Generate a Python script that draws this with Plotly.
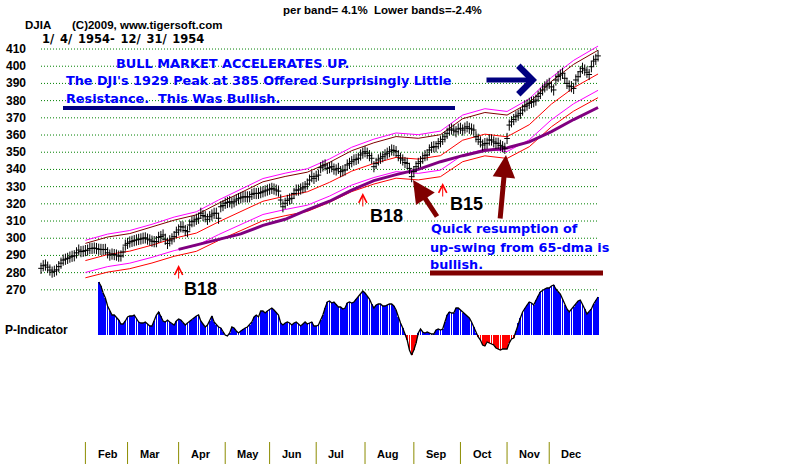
import plotly.graph_objects as go

W, H = 800, 467

# ---------------- data ----------------
# DJIA daily closes, 1954 (trading-day index 0 = Jan 4)
CLOSE = [
    282.5, 284.0, 284.4, 283.2, 281.5, 280.3, 280.8, 281.6, 283.5, 285.5,
    287.3, 287.8, 288.3, 289.0, 289.5, 289.8, 291.5, 293.1, 292.2, 292.4,
    292.8, 293.1, 294.0, 294.1, 294.3, 294.0, 293.6, 293.5, 293.4, 293.5,
    291.5, 290.2, 290.8, 290.5, 290.2, 289.6, 289.7, 292.0, 296.0, 297.0,
    297.8, 298.2, 298.6, 299.0, 299.3, 299.6, 300.0, 300.2, 299.5, 299.0,
    298.3, 298.0, 298.0, 300.5, 301.0, 301.9, 299.4, 297.0, 298.5, 299.6,
    300.9, 303.5, 304.8, 306.7, 306.5, 304.5, 303.8, 307.7, 309.6, 310.0,
    311.0, 311.6, 314.5, 313.2, 312.5, 311.0, 312.5, 313.5, 314.5, 314.5,
    311.6, 318.3, 319.0, 320.3, 320.8, 321.2, 320.5, 321.2, 322.2, 323.0,
    323.5, 324.0, 324.1, 324.0, 324.1, 325.5, 326.1, 326.0, 326.1, 326.5,
    327.0, 327.5, 328.0, 328.5, 329.0, 328.6, 328.0, 327.4, 322.2, 318.3,
    320.3, 322.0, 322.8, 323.2, 326.0, 328.0, 328.0, 328.6, 329.3, 330.0,
    331.5, 333.8, 335.8, 334.8, 336.0, 336.7, 341.0, 342.0, 342.6, 340.6,
    341.0, 341.6, 340.2, 339.7, 340.6, 338.7, 339.2, 339.7, 342.6, 343.5,
    344.5, 345.5, 345.8, 346.5, 348.4, 349.5, 350.3, 349.4, 348.0, 346.5,
    341.6, 343.5, 345.5, 346.5, 347.4, 348.5, 349.4, 350.3, 351.3, 351.0,
    350.3, 348.0, 346.5, 345.5, 344.0, 343.5, 340.6, 335.8, 338.7, 341.6,
    343.5, 344.5, 346.5, 348.0, 348.4, 351.3, 352.8, 353.2, 353.2, 355.0,
    356.1, 357.5, 359.0, 361.0, 362.9, 363.5, 362.8, 361.9, 363.5, 363.9,
    362.9, 364.0, 364.8, 363.9, 363.5, 362.9, 359.0, 357.5, 356.0, 354.2,
    355.0, 355.2, 357.1, 357.1, 356.0, 355.2, 355.2, 354.0, 353.2, 352.3,
    358.0, 365.8, 367.7, 369.0, 370.6, 371.5, 372.6, 374.5, 376.5, 377.4,
    378.4, 379.0, 379.4, 380.3, 382.5, 384.2, 386.2, 388.0, 389.1, 390.0,
    388.0, 386.2, 392.0, 394.0, 394.9, 395.9, 393.0, 390.0, 388.5, 388.1,
    387.1, 392.0, 393.9, 396.8, 398.8, 397.8, 396.5, 395.2, 399.7, 403.0,
    404.0, 406.0,
]

# band lines (read at every 10th trading day)
BAND_DAY = [20, 30, 40, 50, 60, 70, 80, 90, 100, 110, 120, 130, 140, 150,
            160, 170, 180, 190, 200, 210, 220, 230, 240, 251]
MA21 = [287.0, 290.5, 292.5, 296.0, 300.0, 303.0, 309.5, 315.5, 321.5, 324.5,
        327.0, 332.5, 339.0, 343.5, 347.0, 346.0, 348.0, 357.0, 360.5, 359.0,
        366.0, 378.0, 387.5, 395.5]
UPPER_BAND = [298.8, 302.4, 304.5, 308.1, 312.3, 315.4, 322.2, 328.4, 334.7, 337.8,
              340.4, 346.1, 352.9, 357.6, 361.2, 360.2, 362.3, 371.6, 375.3, 373.7,
              381.0, 393.5, 403.4, 411.7]
UPPER_BAND2 = [297.0, 300.7, 302.7, 306.4, 310.5, 313.6, 320.3, 326.5, 332.8, 335.9,
               338.4, 344.1, 350.9, 355.5, 359.1, 358.1, 360.2, 369.5, 373.1, 371.6,
               378.8, 391.2, 401.1, 409.3]
LOWER_BAND = [280.1, 283.5, 285.5, 288.9, 292.8, 295.7, 302.1, 307.9, 313.8, 316.7,
              319.2, 324.5, 330.9, 335.3, 338.7, 337.7, 339.6, 348.4, 351.8, 350.4,
              357.2, 368.9, 378.2, 386.0]
LOWER_BAND2 = [277.0, 280.3, 282.3, 285.6, 289.5, 292.4, 298.7, 304.5, 310.2, 313.1,
               315.6, 320.9, 327.1, 331.5, 334.9, 333.9, 335.8, 344.5, 347.9, 346.4,
               353.2, 364.8, 373.9, 381.7]
MA65_DAY = [62, 70, 80, 90, 100, 110, 120, 130, 140, 150, 160, 170, 180, 190,
            200, 210, 220, 230, 240, 251]
MA65 = [293.5, 296.0, 299.5, 302.5, 307.5, 311.0, 316.5, 321.5, 328.0, 333.5,
        337.0, 340.0, 344.5, 348.0, 351.0, 352.5, 356.0, 362.0, 369.0, 376.0]

# P-Indicator, from trading day 26 to 251
P_START = 26
P_IND = [
    53, 49, 42, 37, 29, 24, 20, 20, 18, 15,
    11, 11, 14, 18, 19, 19, 20, 17, 13, 12,
    12, 13, 11, 9, 9, 14, 20, 23, 19, 14,
    13, 15, 13, 11, 10, 14, 16, 15, 12, 10,
    12, 14, 15, 17, 19, 20, 14, 11, 8, 10,
    14, 19, 13, 10, 8, 7, 3, 0, -1, 2,
    8, 7, 4, 2, 4, 6, 7, 8, 10, 13,
    18, 20, 18, 24, 24, 22, 24, 26, 27, 25,
    23, 20, 12, 10, 12, 13, 12, 10, 12, 13,
    11, 9, 11, 13, 11, 12, 13, 9, 9, 10,
    15, 20, 27, 33, 34, 32, 33, 31, 28, 28,
    26, 27, 32, 33, 32, 33, 36, 38, 41, 44,
    42, 39, 36, 31, 27, 30, 31, 31, 29, 29,
    30, 31, 31, 29, 25, 18, 12, 7, 1, -5,
    -15, -20, -15, -8, 2, 6, 3, 2, 3, 2,
    1, 1, 5, 6, 5, 6, 13, 20, 23, 22,
    22, 27, 27, 25, 22, 21, 19, 17, 13, 8,
    2, -2, -5, -10, -11, -7, -8, -9, -10, -13,
    -14, -15, -14, -14, -14, -8, -4, -3, 4, 12,
    17, 23, 27, 30, 33, 32, 30, 35, 39, 43,
    45, 46, 47, 47, 49, 50, 46, 43, 41, 36,
    30, 26, 23, 26, 28, 31, 34, 35, 31, 26,
    21, 23, 26, 31, 35, 38,
]

MONTHS = ["Feb", "Mar", "Apr", "May", "Jun", "Jul", "Aug", "Sep", "Oct", "Nov", "Dec"]
MONTH_START_DAY = [20, 39, 62, 83, 103, 124, 146, 168, 189, 210, 229]
Y_TICKS = [410, 400, 390, 380, 370, 360, 350, 340, 330, 320, 310, 300, 290, 280, 270]

SIGNALS = ["B18", "B18", "B15"]
SIGNAL_DAY = [62, 145, 181]
SIGNAL_TIP = [284.4, 326.3, 332.1]

# ---------------- figure ----------------
X_RANGE = [-18.48, 342.0]
Y_RANGE = [167.0, 438.5]
P_RANGE = [-132, 335]
FONT = "Liberation Sans, Arial, sans-serif"
WIDE = "DejaVu Sans, Verdana, sans-serif"
BLUE = "#0000ff"
NAVY = "#000080"
MAROON = "#800000"

days = list(range(len(CLOSE)))
p_days = list(range(P_START, P_START + len(P_IND)))

fig = go.Figure()

# P-Indicator bars and outline
fig.add_trace(go.Bar(
    x=p_days, y=P_IND, yaxis="y2", width=0.36,
    marker=dict(color=[BLUE if v >= 0 else "#ff0000" for v in P_IND], line=dict(width=0)),
    hoverinfo="skip"))
fig.add_trace(go.Scatter(
    x=p_days, y=P_IND, yaxis="y2", mode="lines",
    line=dict(color="black", width=1.3), hoverinfo="skip"))

# band lines
for ys, col, w in [(UPPER_BAND, "#ff00ff", 1), (UPPER_BAND2, "#800000", 1),
                   (MA21, "#ff0000", 1), (LOWER_BAND, "#ff00ff", 1),
                   (LOWER_BAND2, "#ff0000", 1)]:
    fig.add_trace(go.Scatter(x=BAND_DAY, y=ys, mode="lines",
                             line=dict(color=col, width=w), hoverinfo="skip"))
fig.add_trace(go.Scatter(x=MA65_DAY, y=MA65, mode="lines",
                         line=dict(color="#800080", width=3), hoverinfo="skip"))

# price bars
fig.add_trace(go.Scatter(x=days, y=CLOSE, mode="markers",
                         marker=dict(symbol="line-ns", size=8, line=dict(width=1, color="black")),
                         hoverinfo="skip"))
fig.add_trace(go.Scatter(x=days, y=CLOSE, mode="markers",
                         marker=dict(symbol="line-ew", size=4, line=dict(width=1, color="black")),
                         hoverinfo="skip"))

shapes = []
last_day = len(CLOSE) - 1
for v in Y_TICKS:
    shapes.append(dict(type="line", xref="x", yref="y", x0=0, x1=last_day, y0=v, y1=v,
                       line=dict(color="#008000", width=1, dash="1px,2px"), layer="below"))


def px(x):
    return x / W


def py(y):
    return 1 - y / H


# white text boxes
shapes.append(dict(type="rect", xref="paper", yref="paper", x0=px(63), x1=px(505),
                   y0=py(106), y1=py(56), fillcolor="white", line=dict(width=0), layer="below"))
shapes.append(dict(type="rect", xref="paper", yref="paper", x0=px(428), x1=px(606),
                   y0=py(271), y1=py(225), fillcolor="white", line=dict(width=0), layer="below"))
# underline bars
shapes.append(dict(type="line", xref="paper", yref="paper", x0=px(63), x1=px(455),
                   y0=py(108), y1=py(108), line=dict(color=NAVY, width=4)))
shapes.append(dict(type="line", xref="paper", yref="paper", x0=px(430), x1=px(603),
                   y0=py(273), y1=py(273), line=dict(color=MAROON, width=5)))
# month ticks
for d in MONTH_START_DAY:
    shapes.append(dict(type="line", xref="x", yref="paper", x0=d, x1=d,
                       y0=py(464), y1=py(442), line=dict(color="#8c8c00", width=1)))

ann = []


def text(s, x, y, size, color="black", xanchor="left", family=FONT, bg=None):
    d = dict(text="<b>%s</b>" % s, xref="paper", yref="paper",
             x=px(x), y=py(y), xanchor=xanchor, yanchor="middle", showarrow=False,
             font=dict(family=family, size=size, color=color))
    if bg:
        d["bgcolor"] = bg
    ann.append(d)


text("per band= 4.1%  Lower bands=-2.4%", 281, 10, 11.5)
text("DJIA", 23, 25, 11.5)
text("(C)2009, www.tigersoft.com", 70, 25, 11.5)
text("1/\u20024/\u20021954-\u200212/\u200231/\u20021954", 40, 39, 11.5, family=WIDE)
text("P-Indicator", 3, 330, 12)

for v in Y_TICKS:
    ann.append(dict(text="<b>%d</b>" % v, xref="paper", yref="y", x=px(28), y=v,
                    xanchor="right", yanchor="middle", showarrow=False,
                    font=dict(family=FONT, size=12, color="black")))

for m, d in zip(MONTHS, MONTH_START_DAY):
    ann.append(dict(text="<b>%s</b>" % m, xref="x", yref="paper", x=d + 4.6, y=py(454),
                    xanchor="left", yanchor="middle", showarrow=False,
                    font=dict(family=FONT, size=11, color="black")))

text("BULL MARKET ACCELERATES UP.", 114, 63, 12.9, BLUE, family=WIDE)
text("The DJI's 1929 Peak at 385 Offered Surprisingly Little", 64, 81, 12.8, BLUE, family=WIDE)
text("Resistance.  This Was Bullish.", 64, 98, 12.8, BLUE, family=WIDE)
text("Quick resumption of", 429, 229, 12.8, BLUE, family=WIDE)
text("up-swing from 65-dma is", 428, 247, 12.8, BLUE, family=WIDE)
text("bullish.", 428, 264, 12.8, BLUE, family=WIDE)

text("B18", 201, 289, 18, bg="white", xanchor="center")
text("B18", 386, 216, 18, bg="white", xanchor="center")
text("B15", 466, 204, 18, bg="white", xanchor="center")

# signal arrows (thin red)
for d, tip in zip(SIGNAL_DAY, SIGNAL_TIP):
    ann.append(dict(text="", xref="x", yref="y", x=d, y=tip, ax=0, ay=15,
                    showarrow=True, arrowhead=5, arrowsize=1.6, arrowwidth=1,
                    arrowcolor="#ff0000", standoff=0))


def arrow(tx, ty, ax, ay, color, width, head, size):
    ann.append(dict(text="", xref="paper", yref="paper", x=px(tx), y=py(ty), ax=ax, ay=ay,
                    showarrow=True, arrowhead=head, arrowsize=size, arrowwidth=width,
                    arrowcolor=color, standoff=0))


arrow(537, 80, -52, 0, NAVY, 5, 4, 1.1)
arrow(413, 180, 25, 38, MAROON, 5, 2, 0.9)
arrow(506, 155, -6, 65, MAROON, 5, 2, 0.9)

fig.update_layout(
    width=W, height=H, margin=dict(l=0, r=0, t=0, b=0),
    paper_bgcolor="white", plot_bgcolor="white", showlegend=False,
    xaxis=dict(range=X_RANGE, visible=False, fixedrange=True),
    yaxis=dict(range=Y_RANGE, visible=False, fixedrange=True),
    yaxis2=dict(range=P_RANGE, visible=False, overlaying="y", fixedrange=True),
    shapes=shapes, annotations=ann,
)

fig.write_html("out.html")
